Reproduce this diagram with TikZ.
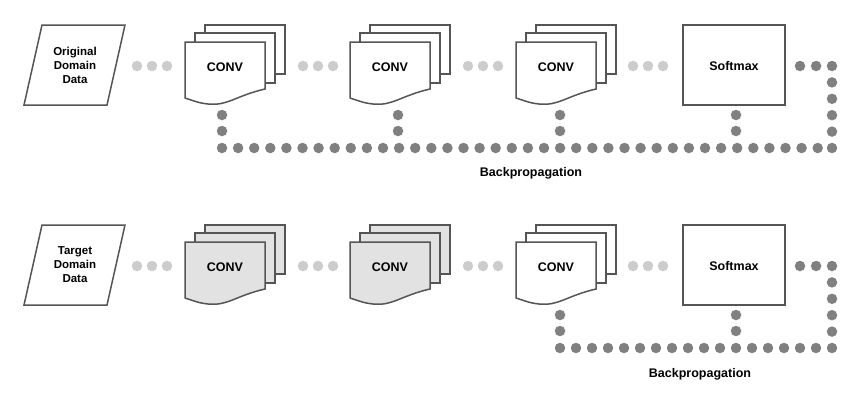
\documentclass[tikz,border=0pt]{standalone}
\usepackage{fontspec}
\setmainfont{Liberation Sans}
\definecolor{edge}{HTML}{555555}
\definecolor{dotd}{HTML}{808080}
\definecolor{dotl}{HTML}{CCCCCC}
\definecolor{shade}{HTML}{E2E2E2}
\tikzset{
  shp/.style={draw=edge,line width=1.5pt,line join=miter},
  lbl/.style={font=\bfseries\fontsize{12.5}{14}\selectfont,align=center,inner sep=0},
  ddots/.style={draw=dotd,line width=10.5pt,line cap=round,dash pattern=on 0pt off 16.1pt},
  ldots/.style={draw=dotl,line width=10.5pt,line cap=round,dash pattern=on 0pt off 15pt},
}
\newcommand\mydoc[3]{% x, y(top), fill
  \path[shp,fill=#3] (#1,#2) -- ++(80,0) -- ++(0,47)
   .. controls ++(-30,7) and ++(20,2) .. ++(-57,15)
   .. controls ++(-8,-1) .. ++(-23,-6) -- cycle;}
\newcommand\mystack[5]{% name, x, y(front top), fill, label
  \path[shp,fill=#4] (#2+20,#3-17) rectangle ++(80,49);
  \path[shp,fill=#4] (#2+10,#3-9) rectangle ++(80,50);
  \mydoc{#2}{#3}{#4}
  \node[lbl] (#1) at (#2+40,#3+25) {#5};}
\begin{document}
\begin{tikzpicture}[x=1pt,y=-1pt]
\useasboundingbox (0,0) rectangle (863,407);
\foreach \dy/\r in {0/a,200/b}{
  \path[shp,fill=white] (42,25+\dy) -- (125,25+\dy) -- (107,105+\dy) -- (24,105+\dy) -- cycle;
  \path[shp,fill=white] (683,25+\dy) rectangle (785,105+\dy);
  \node[lbl] (sm\r) at (734,66+\dy) {Softmax};
  \foreach \x in {137,303,468,633}{
    \path[ldots] (\x,66+\dy) -- (\x+32,66+\dy);}
}
\node[lbl,font=\bfseries\fontsize{11.5}{14}\selectfont] (da) at (75,65) {Original\\Domain\\Data};
\node[lbl,font=\bfseries\fontsize{11.5}{14}\selectfont] (db) at (75,265) {Target\\Domain\\Data};
\mystack{c1a}{185}{42}{white}{CONV}
\mystack{c2a}{350}{42}{white}{CONV}
\mystack{c3a}{516}{42}{white}{CONV}
\mystack{c1b}{185}{242}{shade}{CONV}
\mystack{c2b}{350}{242}{shade}{CONV}
\mystack{c3b}{516}{242}{white}{CONV}
% backprop row 1
\coordinate (r1) at (800,66); \coordinate (k1) at (832,66); \coordinate (e1) at (832,148); \coordinate (s1) at (222,148);
\path[ddots] (r1) -- (k1);
\path[ddots,dash pattern=on 0pt off 16.4pt] (k1) -- (e1);
\path[ddots] (s1) -- (e1);
\foreach \x in {222,398,560,736}{\fill[dotd] (\x,115) circle (5.25) (\x,131) circle (5.25);}
\node[lbl] (bpa) at (531,173) {Backpropagation};
% backprop row 2
\coordinate (r2) at (800,266); \coordinate (k2) at (832,266); \coordinate (e2) at (832,348); \coordinate (s2) at (560,348);
\path[ddots] (r2) -- (k2);
\path[ddots,dash pattern=on 0pt off 16.4pt] (k2) -- (e2);
\path[ddots,dash pattern=on 0pt off 16pt] (s2) -- (e2);
\foreach \x in {560,736}{\fill[dotd] (\x,315) circle (5.25) (\x,331) circle (5.25);}
\node[lbl] (bpb) at (700,374) {Backpropagation};
\end{tikzpicture}
\end{document}
